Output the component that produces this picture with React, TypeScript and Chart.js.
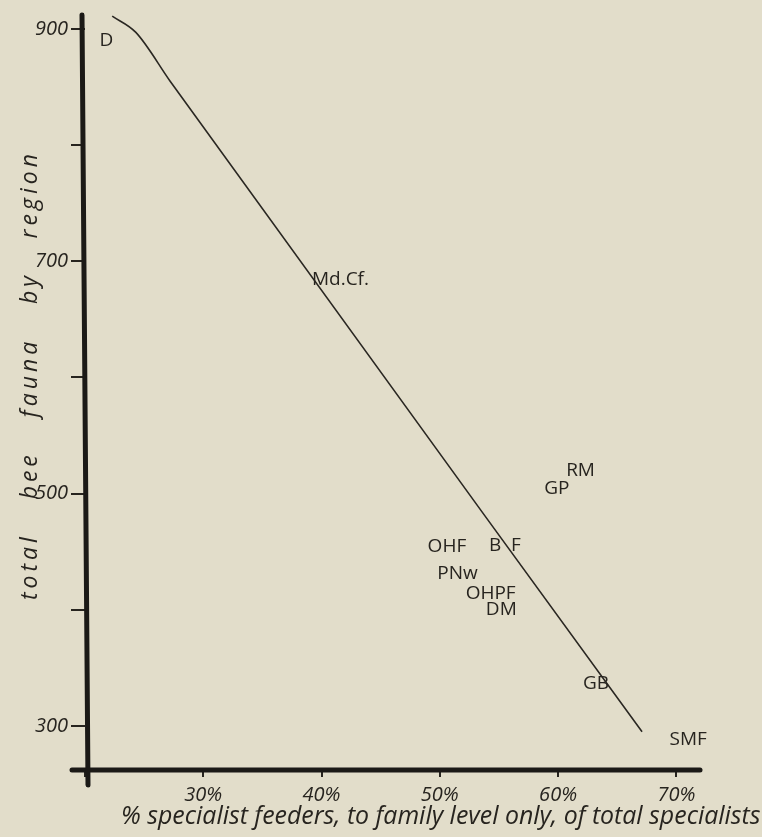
import React, { useEffect, useRef } from "react";
import { Chart, registerables } from "chart.js";

Chart.register(...registerables);

// ---- data ----
const regionNames = ["D", "Md.Cf.", "RM", "GP", "OHF", "B  F", "PNw", "OHPF", "DM", "GB", "SMF"];
const specialistPct = [21.8, 41.6, 61.9, 59.9, 50.6, 55.5, 51.5, 54.3, 55.2, 63.2, 71.0];
const beeFauna = [890, 684, 520, 504, 454, 455, 431, 414, 400, 336, 288];

const fitPct = [22.3, 24.3, 27.2, 67.1];
const fitFauna = [911, 897, 855, 295];

const xTickValues = [30, 40, 50, 60, 70];
const yTickLabels = [300, 500, 700, 900];

const xTitle = "% specialist feeders, to family level only, of total specialists";
const yTitle = "total bee fauna by region";

const INK = "#27241f";
const PAPER = "#e2ddca";
const FONT = '"Open Sans", "DejaVu Sans", sans-serif';

const paperPlugin = {
  id: "paper",
  beforeDraw(chart: any) {
    const { ctx, width, height } = chart;
    ctx.save();
    ctx.fillStyle = PAPER;
    ctx.fillRect(0, 0, width, height);
    ctx.restore();
  },
};

const handAxesPlugin = {
  id: "handAxes",
  beforeDatasetsDraw(chart: any) {
    const { ctx, chartArea: a } = chart;
    ctx.save();
    ctx.strokeStyle = "#1b1916";
    ctx.lineWidth = 5;
    ctx.lineCap = "round";
    ctx.beginPath();
    ctx.moveTo(a.left - 13, a.bottom);
    ctx.lineTo(a.right, a.bottom);
    ctx.stroke();
    ctx.beginPath();
    ctx.moveTo(a.left - 3, a.top);
    ctx.lineTo(a.left + 3, a.bottom + 15);
    ctx.stroke();
    ctx.restore();
  },
};

const regionLabelPlugin = {
  id: "regionLabels",
  afterDatasetsDraw(chart: any) {
    const { ctx } = chart;
    const meta = chart.getDatasetMeta(0);
    ctx.save();
    ctx.fillStyle = INK;
    ctx.font = `19px ${FONT}`;
    ctx.textAlign = "center";
    ctx.textBaseline = "middle";
    meta.data.forEach((pt: any, i: number) => {
      ctx.fillText(regionNames[i], pt.x, pt.y);
    });
    ctx.restore();
  },
};

const axisTitlePlugin = {
  id: "axisTitles",
  afterDraw(chart: any) {
    const { ctx } = chart;
    ctx.save();
    ctx.fillStyle = INK;
    // x title
    ctx.font = `italic 21px ${FONT}`;
    const w = ctx.measureText(xTitle).width;
    const size = 21 * (640 / w);
    ctx.font = `italic ${size.toFixed(1)}px ${FONT}`;
    ctx.textAlign = "left";
    ctx.textBaseline = "alphabetic";
    ctx.fillText(xTitle, 121, 824);
    // y title
    ctx.font = `italic 23px ${FONT}`;
    (ctx as any).letterSpacing = "4px";
    (ctx as any).wordSpacing = "0px";
    const w0 = ctx.measureText(yTitle).width;
    const words = yTitle.split(" ").length - 1;
    (ctx as any).wordSpacing = `${((450 - w0) / words).toFixed(2)}px`;
    ctx.translate(37, 375);
    ctx.rotate(-Math.PI / 2);
    ctx.textAlign = "center";
    ctx.fillText(yTitle, 0, 0);
    ctx.restore();
  },
};

export default function App() {
  const canvasRef = useRef<HTMLCanvasElement | null>(null);

  useEffect(() => {
    if (!canvasRef.current) return;
    const labelPoints = specialistPct.map((x, i) => ({ x, y: beeFauna[i] }));
    const fitPoints = fitPct.map((x, i) => ({ x, y: fitFauna[i] }));
    const chart = new Chart(canvasRef.current, {
      type: "scatter",
      data: {
        datasets: [
          {
            label: "regions",
            data: labelPoints,
            pointRadius: 0,
            pointHoverRadius: 0,
            showLine: false,
          },
          {
            label: "fit",
            data: fitPoints,
            showLine: true,
            borderColor: "#2a2722",
            borderWidth: 1.6,
            pointRadius: 0,
            cubicInterpolationMode: "monotone",
            fill: false,
          },
        ],
      },
      options: {
        responsive: false,
        animation: false,
        layout: { padding: { top: 14, right: 62, left: 0, bottom: 0 } },
        plugins: {
          legend: { display: false },
          tooltip: { enabled: false },
          title: { display: false },
        },
        scales: {
          x: {
            type: "linear",
            min: 20,
            max: 72,
            afterFit: (s: any) => {
              s.height = 67;
            },
            border: { display: false },
            grid: {
              drawOnChartArea: false,
              drawTicks: true,
              tickLength: 7,
              color: INK,
              lineWidth: 2,
            },
            ticks: {
              stepSize: 10,
              includeBounds: false,
              autoSkip: false,
              maxRotation: 0,
              padding: 6,
              color: INK,
              font: { family: FONT, size: 20, style: "italic" },
              callback: (v: any) => (xTickValues.includes(Number(v)) ? `${v}%` : ""),
            },
          },
          y: {
            type: "linear",
            min: 262,
            max: 912,
            afterFit: (s: any) => {
              s.width = 85;
            },
            border: { display: false },
            grid: {
              drawOnChartArea: false,
              drawTicks: true,
              tickLength: 14,
              color: INK,
              lineWidth: 2,
            },
            ticks: {
              stepSize: 100,
              includeBounds: false,
              autoSkip: false,
              padding: 3,
              color: INK,
              font: { family: FONT, size: 20, style: "italic" },
              callback: (v: any) => (yTickLabels.includes(Number(v)) ? String(v) : ""),
            },
          },
        },
      } as any,
      plugins: [paperPlugin, handAxesPlugin, regionLabelPlugin, axisTitlePlugin],
    });
    return () => chart.destroy();
  }, []);

  return (
    <div
      style={{
        position: "fixed",
        left: 0,
        top: 0,
        width: 762,
        height: 837,
        background: PAPER,
      }}
    >
      <canvas ref={canvasRef} width={762} height={837} style={{ width: 762, height: 837, display: "block" }} />
    </div>
  );
}
